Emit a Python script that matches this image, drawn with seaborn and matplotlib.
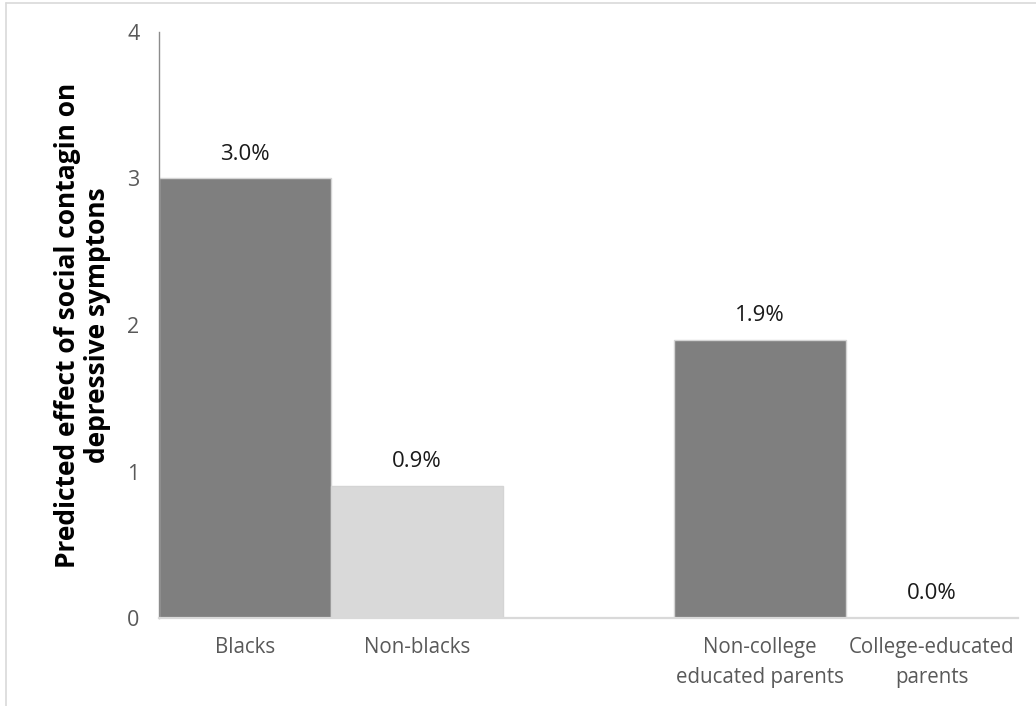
import matplotlib
matplotlib.use("Agg")
import matplotlib.pyplot as plt
import seaborn as sns
import pandas as pd
from matplotlib.lines import Line2D

categories = ["Blacks", "Non-blacks", "Non-college\neducated parents", "College-educated\nparents"]
values = [3.0, 0.9, 1.9, 0.0]
value_labels = ["3.0%", "0.9%", "1.9%", "0.0%"]
bar_colors = ["#7f7f7f", "#d9d9d9", "#7f7f7f", "#d9d9d9"]
yticks = [0, 1, 2, 3, 4]
ylabel = "Predicted effect of social contagin on\ndepressive symptons"

spacer = " "
order = categories[:2] + [spacer] + categories[2:]

df = pd.DataFrame({"cat": categories, "val": values})

sns.set_theme(style="white")
plt.rcParams["font.family"] = ["Open Sans", "DejaVu Sans"]

fig = plt.figure(figsize=(10.36, 7.06), dpi=100)
ax = fig.add_axes([0.1535, 0.1246, 0.829, 0.8301])

sns.barplot(data=df, x="cat", y="val", order=order, hue="cat",
            palette=dict(zip(categories, bar_colors)), hue_order=categories,
            width=1.0, edgecolor="#d4d4d4", linewidth=1.0, legend=False, ax=ax)

ax.set_ylim(0, 4)
ax.set_xlim(-0.5, len(order) - 0.5)
ax.set_yticks(yticks)
ax.set_yticklabels([str(t) for t in yticks], color="#595959", fontsize=15.5)
ax.tick_params(axis="y", length=0, pad=14)
ax.tick_params(axis="x", length=0, pad=14, labelsize=14.8, labelcolor="#595959")
for lbl in ax.get_xticklabels():
    lbl.set_linespacing(1.55)

ax.set_xlabel("")
ax.set_ylabel(ylabel, fontsize=19, fontweight="bold", color="black", labelpad=12,
              linespacing=1.1)

for s in ["top", "right"]:
    ax.spines[s].set_visible(False)
ax.spines["left"].set_color("#8c8c8c")
ax.spines["left"].set_linewidth(1.0)
ax.spines["bottom"].set_color("#d9d9d9")
ax.spines["bottom"].set_linewidth(1.6)

for cat, v, txt in zip(categories, values, value_labels):
    xpos = order.index(cat)
    ax.annotate(txt, (xpos, v), xytext=(0, 10), textcoords="offset points",
                ha="center", va="bottom", fontsize=16, color="#1a1a1a")

# partial figure frame (top and left)
fig.add_artist(Line2D([5.5 / 1036, 1], [1 - 2.5 / 706, 1 - 2.5 / 706],
                      transform=fig.transFigure, color="#d9d9d9", lw=1.2))
fig.add_artist(Line2D([5.5 / 1036, 5.5 / 1036], [0, 1 - 2.5 / 706],
                      transform=fig.transFigure, color="#d9d9d9", lw=1.2))

fig.savefig("out.png", dpi=100, facecolor="white")
